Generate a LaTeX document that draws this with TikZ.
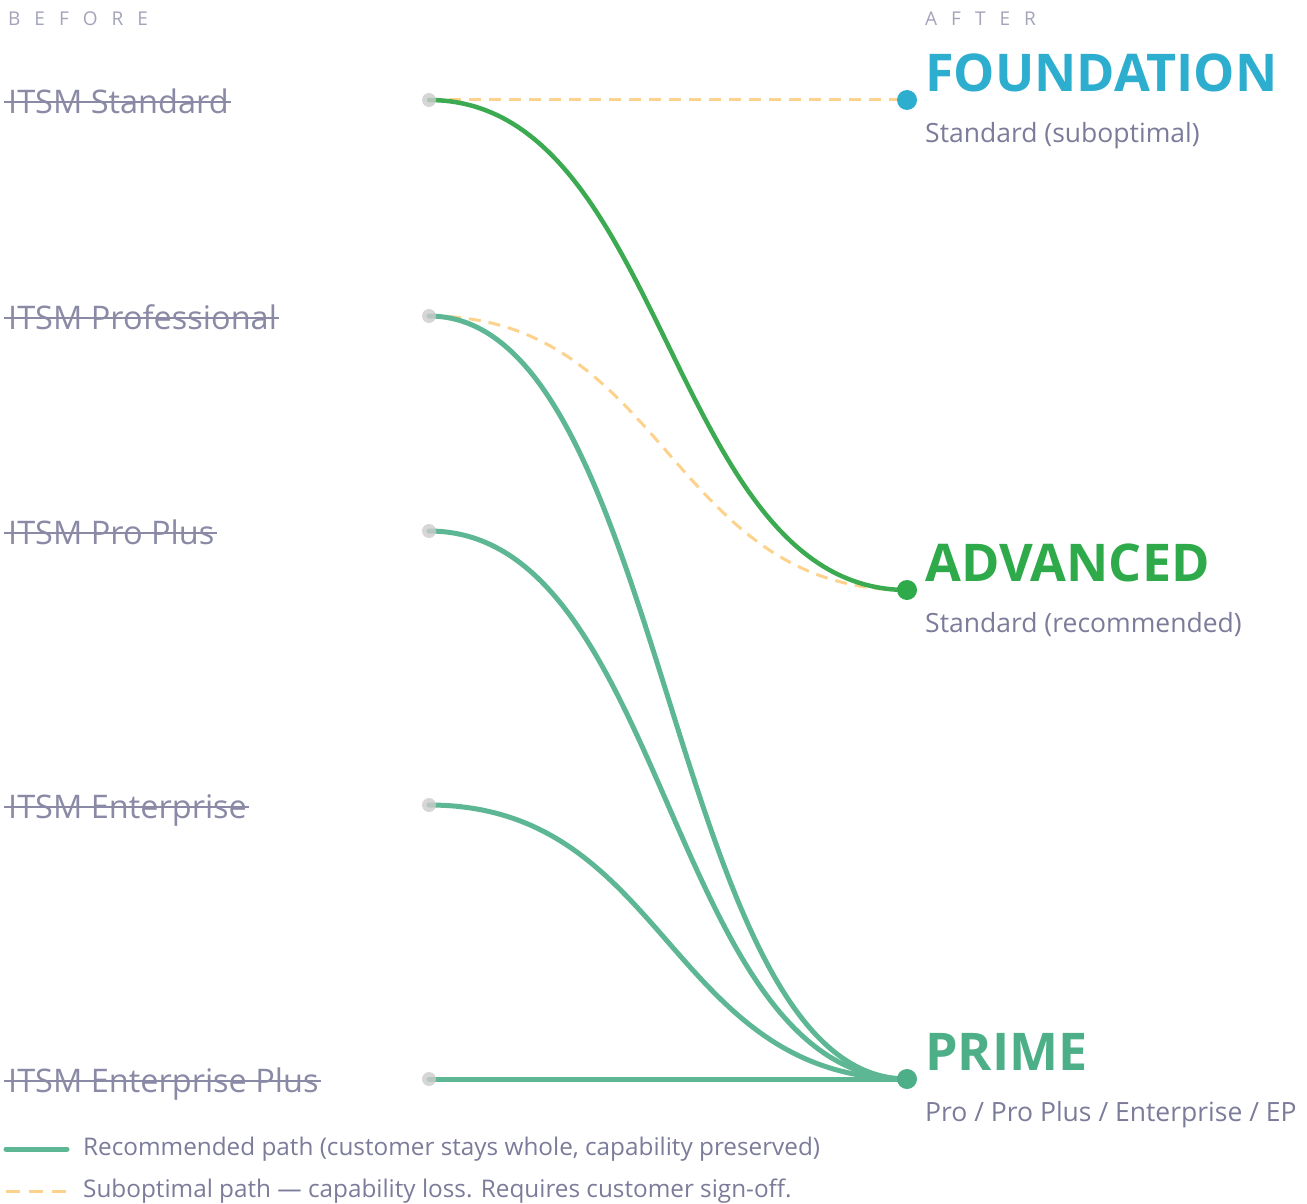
\documentclass[tikz,border=0pt]{standalone}
\usepackage{fontspec}
\setmainfont{Open Sans}
\usetikzlibrary{positioning}
\definecolor{muted}{HTML}{8A8AA6}
\definecolor{subtxt}{HTML}{7B7B9A}
\definecolor{head}{HTML}{A3A3BA}
\definecolor{found}{HTML}{2EAECF}
\definecolor{adv}{HTML}{2EAA4A}
\definecolor{prime}{HTML}{4CAF87}
\definecolor{teal}{HTML}{5DB794}
\definecolor{grn}{HTML}{3BAA50}
\definecolor{peach}{HTML}{FDD28C}
\begin{document}
\begin{tikzpicture}[x=1pt,y=-1pt,
  old/.style={anchor=west,inner sep=0pt,text height=23pt,text depth=0pt,text=muted,font=\fontsize{32.5}{32.5}\selectfont},
  strike/.style={muted,line width=2pt},
  tier/.style={anchor=base west,inner sep=0pt,font=\fontsize{52}{52}\selectfont\bfseries},
  sub/.style={anchor=base west,inner sep=0pt,text=subtxt,font=\fontsize{26.5}{26.5}\selectfont},
  head/.style={anchor=base west,inner sep=0pt,text=head,font=\fontsize{19}{19}\selectfont},
  src/.style={circle,fill=black!20,fill opacity=0.8,inner sep=0pt,minimum size=14pt},
  dst/.style={circle,inner sep=0pt,minimum size=20pt},
  rec/.style={teal,line width=5pt,line cap=round},
  lossy/.style={peach,line width=3pt,dash pattern=on 12pt off 8pt}]
\useasboundingbox (0,0) rectangle (1307,1204);

% column headings
\node[head] (before) at (8,26) {B\kern14pt E\kern14pt F\kern14pt O\kern14pt R\kern14pt E};
\node[head] (after) at (925,26) {A\kern14pt F\kern14pt T\kern14pt E\kern14pt R};

% old tiers
\node[old] (lstd) at (8,102) {ITSM Standard};
\node[old] (lpro) at (8,318) {ITSM Professional};
\node[old] (lpp) at (8,533) {ITSM Pro Plus};
\node[old] (lent) at (8,807) {ITSM Enterprise};
\node[old] (lep) at (8,1081) {ITSM Enterprise Plus};
\foreach \n in {lstd,lpro,lpp,lent,lep}
  \draw[strike] ([xshift=-4pt]\n.west) -- ([xshift=2pt]\n.east);

% new tiers
\node[tier,text=found] (tfound) at (925,92) {FOUNDATION};
\node[sub] (sfound) at (925,143) {Standard (suboptimal)};
\node[tier,text=adv] (tadv) at (925,581) {ADVANCED};
\node[sub] (sadv) at (925,632) {Standard (recommended)};
\node[tier,text=prime] (tprime) at (925,1070) {PRIME};
\node[sub] (sprime) at (925,1121) {Pro / Pro Plus / Enterprise / EP};

% end points
\coordinate (std) at (429,100);
\coordinate (pro) at (429,316);
\coordinate (pp) at (429,531);
\coordinate (ent) at (429,805);
\coordinate (ep) at (429,1079);
\coordinate (found) at (907,100);
\coordinate (advd) at (907,590);
\coordinate (prm) at (907,1079);

% migration paths
\draw[lossy] (std) -- (found);
\draw[lossy] (pro) .. controls +(239,0) and +(-239,0) .. (advd);
\draw[grn,line width=4.5pt,line cap=round] (std) .. controls +(239,0) and +(-239,0) .. (advd);
\foreach \s in {pro,pp,ent}
  \draw[rec] (\s) .. controls +(239,0) and +(-239,0) .. (prm);
\draw[rec] (ep) -- (prm);

% dots
\foreach \s in {std,pro,pp,ent,ep}
  \node[src] at (\s) {};
\node[dst,fill=found] (dfound) at (found) {};
\node[dst,fill=adv] (dadv) at (advd) {};
\node[dst,fill=prime] (dprime) at (prm) {};

% legend
\coordinate (k1) at (6,1149);
\coordinate (k2) at (6,1191);
\draw[rec] (k1) -- +(61,0);
\node[sub,anchor=west,font=\fontsize{24.3}{24.3}\selectfont] (krec) at (83,1149) {Recommended path (customer stays whole, capability preserved)};
\draw[lossy,dash pattern=on 14pt off 9pt] (k2) -- +(61,0);
\node[sub,anchor=west,font=\fontsize{24.3}{24.3}\selectfont] (kloss) at (83,1191) {Suboptimal path — capability loss. Requires customer sign-off.};
\end{tikzpicture}
\end{document}
